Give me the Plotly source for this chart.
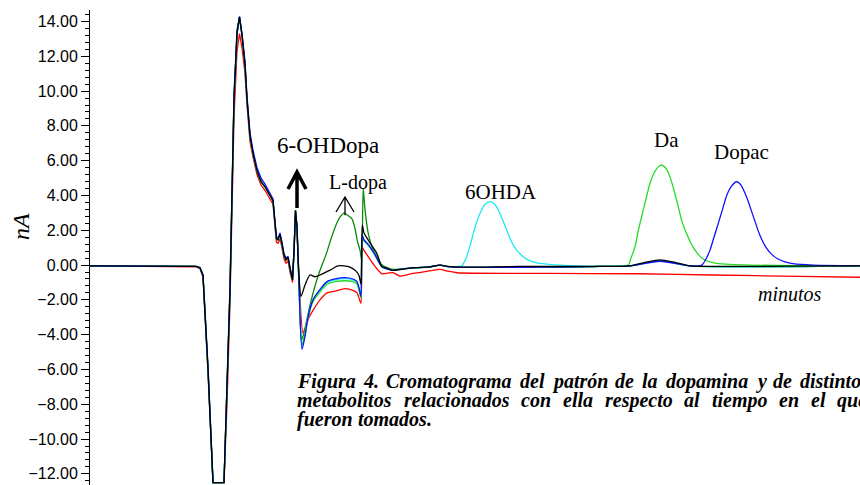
import plotly.graph_objects as go

# Retention time (minutes) and detector current (nA) for each chromatogram.
# The injection front is shared by most runs.
front_t = [0, 1.2, 2.12, 2.2, 2.26, 2.36, 2.46, 2.68, 2.74, 2.8, 2.88, 2.94, 2.99, 3.04,
           3.1, 3.14, 3.2, 3.26, 3.34, 3.42, 3.5, 3.6, 3.66, 3.7, 3.73, 3.76, 3.8, 3.84,
           3.88, 3.92, 3.96, 4.0, 4.05, 4.08, 4.11, 4.14]
front_main = [-0.05, -0.05, -0.08, -0.15, -0.6, -6.0, -12.5, -12.5, -7.5, -1.5, 9.5, 13.3,
              14.25, 13.2, 11.5, 9.5, 7.4, 6.4, 5.4, 4.8, 4.5, 4.0, 3.7, 2.4, 1.5, 1.45,
              1.75, 1.2, 0.55, 0.3, 0.45, -0.2, -0.85, 0.8, 3.15, 2.2]
front_blue = [-0.05, -0.05, -0.08, -0.15, -0.55, -5.8, -12.5, -12.5, -7.3, -1.2, 9.8, 13.5,
              14.3, 13.3, 11.7, 9.7, 7.6, 6.6, 5.6, 5.0, 4.65, 4.1, 3.8, 2.5, 1.6, 1.55,
              1.85, 1.3, 0.65, 0.4, 0.5, -0.15, -0.8, 0.85, 3.1, 2.2]
front_red = [-0.05, -0.06, -0.1, -0.2, -0.7, -6.2, -12.5, -12.5, -8.0, -2.2, 8.5, 12.3,
             13.3, 12.5, 11.0, 9.2, 7.1, 6.2, 5.2, 4.6, 4.3, 3.8, 3.5, 2.2, 1.3, 1.25,
             1.5, 1.0, 0.35, 0.1, 0.25, -0.4, -1.0, 0.6, 2.9, 2.0]

# Black run (blank)
black_t = [4.18, 4.22, 4.3, 4.4, 4.5, 4.6, 4.8, 4.96, 5.08, 5.2, 5.32, 5.38, 5.42, 5.446,
           5.48, 5.54, 5.64, 5.74, 5.84, 5.94, 6.04, 6.26, 6.5, 6.8, 7.0, 7.16, 7.4, 8.6,
           10.2, 10.8, 11.1, 11.4, 11.7, 12.0, 12.6, 14.0, 15.4]
black_v = [-0.6, -1.8, -1.15, -0.57, -0.67, -0.57, -0.29, -0.05, -0.05, -0.12, -0.35, -0.6,
           -1.1, 2.3, 1.85, 1.55, 1.1, 0.65, -0.1, -0.17, -0.3, -0.23, -0.15, -0.1, 0.0,
           -0.08, -0.12, -0.08, -0.08, -0.05, 0.15, 0.3, 0.15, -0.05, -0.08, -0.06, -0.05]

# Dopac run (blue)
dopac_t = [4.18, 4.24, 4.3, 4.36, 4.46, 4.6, 4.74, 4.9, 5.1, 5.26, 5.34, 5.38, 5.42, 5.446,
           5.48, 5.56, 5.68, 5.84, 5.96, 6.08, 6.3, 6.8, 7.0, 7.2, 10.2, 10.8, 11.4, 12.0,
           12.234, 12.32, 12.4, 12.48, 12.566, 12.65, 12.734, 12.82, 12.934, 13.02, 13.134,
           13.266, 13.4, 13.534, 13.64, 13.76, 13.9, 14.06, 14.46, 15.4]
dopac_v = [-1.2, -4.85, -4.1, -3.0, -2.0, -1.4, -0.95, -0.8, -0.72, -0.8, -0.95, -1.3, -1.8,
           1.7, 1.45, 1.2, 0.7, -0.1, -0.25, -0.3, -0.2, -0.1, 0.0, -0.1, -0.08, -0.05,
           0.22, -0.05, 0.0, 0.35, 0.86, 1.6, 2.4, 3.2, 4.0, 4.5, 4.79, 4.6, 3.9, 2.8, 1.7,
           0.96, 0.6, 0.35, 0.18, 0.08, 0.0, -0.03]

# Dopamine run (light green)
da_t = [4.18, 4.24, 4.3, 4.36, 4.46, 4.6, 4.74, 4.9, 5.1, 5.26, 5.34, 5.38, 5.42, 5.446,
        5.48, 5.56, 5.68, 5.84, 5.96, 6.08, 6.3, 6.8, 7.0, 7.2, 10.2, 10.6, 10.766, 10.82,
        10.9, 10.96, 11.034, 11.12, 11.2, 11.3, 11.42, 11.52, 11.6, 11.68, 11.766, 11.84,
        11.934, 12.02, 12.1, 12.2, 12.3, 12.42, 12.534, 12.8, 13.2, 14.2, 15.4]
da_v = [-1.1, -4.6, -3.9, -3.0, -2.1, -1.55, -1.1, -0.95, -0.9, -0.95, -1.1, -1.45, -1.9,
        1.6, 1.4, 1.15, 0.65, -0.1, -0.22, -0.28, -0.2, -0.1, 0.0, -0.1, -0.08, -0.06, 0.0,
        0.4, 1.05, 1.9, 2.8, 3.8, 4.7, 5.4, 5.75, 5.55, 5.07, 4.3, 3.35, 2.5, 1.8, 1.25,
        0.86, 0.5, 0.29, 0.17, 0.1, 0.04, 0.0, -0.04, -0.05]

# 6-hydroxydopamine run (cyan)
ohda_t = [4.18, 4.24, 4.3, 4.36, 4.46, 4.6, 4.74, 4.9, 5.1, 5.26, 5.34, 5.38, 5.42, 5.446,
          5.48, 5.56, 5.68, 5.84, 5.96, 6.08, 6.3, 6.8, 7.0, 7.2, 7.36, 7.434, 7.48, 7.534,
          7.6, 7.666, 7.73, 7.8, 7.9, 8.0, 8.07, 8.134, 8.2, 8.266, 8.334, 8.4, 8.466, 8.534,
          8.6, 8.666, 8.76, 8.866, 9.0, 9.134, 9.4, 10.2, 10.8, 11.4, 12.0, 15.4]
ohda_v = [-1.15, -4.7, -4.0, -3.0, -2.0, -1.45, -1.0, -0.85, -0.78, -0.85, -1.0, -1.35,
          -1.85, 1.65, 1.45, 1.2, 0.7, -0.1, -0.22, -0.28, -0.2, -0.1, 0.0, -0.1, -0.08,
          -0.06, 0.15, 0.48, 1.1, 1.82, 2.45, 2.97, 3.5, 3.64, 3.55, 3.35, 2.95, 2.5, 2.0,
          1.53, 1.15, 0.86, 0.65, 0.48, 0.3, 0.19, 0.1, 0.06, 0.0, -0.06, -0.04, 0.25,
          -0.05, -0.05]

# L-dopa run (dark green)
ldopa_t = [4.18, 4.23, 4.28, 4.34, 4.4, 4.5, 4.6, 4.72, 4.82, 4.92, 5.0, 5.08, 5.16, 5.24,
           5.3, 5.35, 5.4, 5.434, 5.464, 5.5, 5.56, 5.66, 5.76, 5.84, 5.96, 6.08, 6.3, 6.8,
           7.0, 7.2, 10.2, 10.8, 11.4, 12.0, 15.4]
ldopa_v = [-0.8, -4.3, -3.9, -3.1, -2.3, -1.2, -0.3, 0.6, 1.5, 2.3, 2.75, 2.98, 2.85, 2.65,
           2.1, 1.35, 0.86, 0.25, 4.4, 3.2, 1.9, 0.9, 0.4, 0.0, -0.17, -0.25, -0.2, -0.1,
           0.0, -0.1, -0.08, -0.05, 0.25, -0.05, -0.05]

# Red run (drifting baseline)
red_t = [4.18, 4.26, 4.32, 4.38, 4.46, 4.6, 4.74, 4.9, 5.1, 5.26, 5.34, 5.38, 5.42, 5.446,
         5.48, 5.56, 5.68, 5.84, 5.96, 6.06, 6.2, 6.46, 6.76, 7.0, 7.16, 7.34, 9.14, 11.0,
         12.46, 14.2, 15.4]
red_v = [-0.8, -3.9, -3.5, -3.0, -2.6, -2.0, -1.6, -1.5, -1.35, -1.45, -1.6, -1.9, -2.2,
         1.0, 0.85, 0.5, 0.0, -0.5, -0.46, -0.44, -0.63, -0.48, -0.35, -0.25, -0.35, -0.44,
         -0.48, -0.5, -0.57, -0.65, -0.7]

y_ticks = [-12, -10, -8, -6, -4, -2, 0, 2, 4, 6, 8, 10, 12, 14]

runs = [
    ("Rojo", front_red, red_t, red_v, "#ff0000"),
    ("L-dopa", front_main, ldopa_t, ldopa_v, "#0a8a0a"),
    ("6OHDA", front_main, ohda_t, ohda_v, "#1ee8f0"),
    ("Da", front_main, da_t, da_v, "#22dd22"),
    ("Dopac", front_blue, dopac_t, dopac_v, "#1010ff"),
    ("Blanco", front_main, black_t, black_v, "#000000"),
]

fig = go.Figure()
for name, front_v, tail_t, tail_v, color in runs:
    # injection front: straight segments keep the clipped trough flat
    fig.add_trace(go.Scatter(
        x=front_t, y=front_v, name=name, mode="lines",
        line=dict(color=color, width=1.3, shape="linear"),
        hoverinfo="skip", showlegend=False))
    # elution part: smoothed peaks
    fig.add_trace(go.Scatter(
        x=front_t[-1:] + tail_t, y=front_v[-1:] + tail_v, name=name, mode="lines",
        line=dict(color=color, width=1.3, shape="spline", smoothing=0.7),
        hoverinfo="skip", showlegend=False))

W, H = 860, 485
L, T = 90, 10
X_RANGE = [0, 15.4]
Y_RANGE = [-12.64, 14.66]


def paper(px, py):
    return (px - L) / (W - L), (H - py) / (H - T)


serif = "Liberation Serif"
ann = []


def label(text, t, v, size, italic=False):
    ann.append(dict(text=f"<i>{text}</i>" if italic else text, x=t, y=v, xref="x",
                    yref="y", showarrow=False, xanchor="center", yanchor="middle",
                    font=dict(family=serif, size=size, color="black")))


label("6-OHDopa", 4.76, 6.9, 23)
label("L-dopa", 5.36, 4.77, 20)
label("6OHDA", 8.22, 4.2, 21)
label("Da", 11.52, 7.18, 21)
label("Dopac", 13.02, 6.49, 21)
label("minutos", 14.0, -1.67, 20, italic=True)

nx, ny = paper(21, 227)
ann.append(dict(text="<i>nA</i>", x=nx, y=ny, xref="paper", yref="paper", showarrow=False,
                textangle=-90, xanchor="center", yanchor="middle",
                font=dict(family=serif, size=24, color="black")))

# Justified caption, laid out word by word
caption = [
    (381, [("Figura", 296), ("4.", 362), ("Cromatograma", 385), ("del", 519),
           ("patrón", 551), ("de", 614), ("la", 641), ("dopamina", 665), ("y", 755),
           ("de", 772), ("distintos", 799)]),
    (400, [("metabolitos", 296), ("relacionados", 403), ("con", 520), ("ella", 562),
           ("respecto", 604), ("al", 683), ("tiempo", 711), ("en", 778), ("el", 810),
           ("que", 836)]),
    (419, [("fueron", 296), ("tomados.", 357)]),
]
for py, words in caption:
    for word, px in words:
        cx, cy = paper(px, py)
        ann.append(dict(text=f"<b><i>{word}</i></b>", x=cx, y=cy, xref="paper",
                        yref="paper", showarrow=False, xanchor="left", yanchor="middle",
                        borderpad=0,
                        font=dict(family=serif, size=20, color="black")))

shapes = [
    # bold arrow over the 6-OHDopa spike
    dict(type="path", xref="x", yref="y",
         path="M 4.14,3.28 L 4.14,5.30 M 3.96,4.37 L 4.14,5.345 L 4.32,4.37",
         line=dict(color="black", width=3.5)),
    # thin arrow under the L-dopa label
    dict(type="path", xref="x", yref="y",
         path="M 5.1,2.87 L 5.1,3.9 M 4.92,3.05 L 5.1,3.91 L 5.28,3.05",
         line=dict(color="black", width=1.3)),
]

fig.update_layout(
    width=W, height=H, autosize=False,
    margin=dict(l=L, r=0, t=T, b=0, pad=0),
    paper_bgcolor="white", plot_bgcolor="white",
    annotations=ann, shapes=shapes,
    xaxis=dict(visible=False, range=X_RANGE),
    yaxis=dict(range=Y_RANGE, tickvals=y_ticks, tickformat=".2f",
               showline=True, linecolor="black", linewidth=1,
               ticks="outside", ticklen=8, tickwidth=1, tickcolor="black",
               showgrid=False, zeroline=False,
               tickfont=dict(family="Liberation Sans", size=16, color="black"),
               minor=dict(tick0=0, dtick=0.4, ticks="outside", ticklen=4,
                          tickcolor="black", tickwidth=1, showgrid=False)),
)

fig.write_html("out.html")
